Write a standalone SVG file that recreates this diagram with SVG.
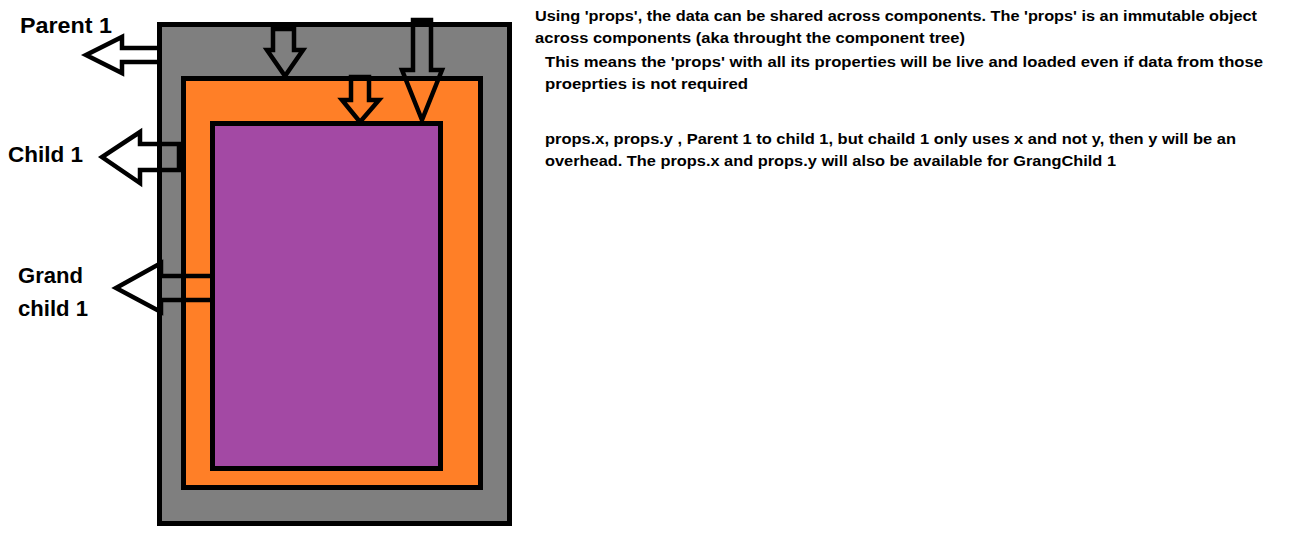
<svg xmlns="http://www.w3.org/2000/svg" width="1306" height="542" viewBox="0 0 1306 542">
<style>
.box{stroke:#000;stroke-width:5}
.arr{fill:none;stroke:#000;stroke-width:4.5;stroke-linejoin:miter}
.lbl{font-family:"Liberation Sans",Arial,sans-serif;font-weight:bold;font-size:22px;fill:#000}
.txt{font-family:"Liberation Sans",Arial,sans-serif;font-weight:bold;font-size:15.5px;fill:#000}
</style>
<rect width="1306" height="542" fill="#fff"/>
<g id="parent1">
<rect class="box" x="159.5" y="24.5" width="350" height="499" fill="#7f7f7f"/>
</g>
<g id="child1">
<rect class="box" x="183.5" y="78.5" width="297" height="409" fill="#ff7f27"/>
</g>
<g id="grandchild1">
<rect class="box" x="212.5" y="123.5" width="228" height="345" fill="#a349a4"/>
</g>
<g id="connectors">
<path class="arr" d="M159,48 H122 V37 L86,55 L122,73 V62 H159"/>
<path class="arr" d="M179,144 H140 V132 L102,157 L140,183 V170 H179 Z"/>
<path class="arr" d="M210,276 H161 V263 L116,288 L161,312 V300 H210"/>
<path class="arr" d="M273,29 H294 V50 H303 L285,76 L267,50 H273 Z"/>
<path class="arr" d="M413,20 H431 V70 H442 L422,120 L402,70 H413 Z"/>
<path class="arr" d="M351,77 H369 V100 H379 L360,122 L342,100 H351 Z"/>
</g>
<g id="labels">
<text class="lbl" x="20" y="33" textLength="92" lengthAdjust="spacingAndGlyphs">Parent 1</text>
<text class="lbl" x="8" y="162" textLength="75" lengthAdjust="spacingAndGlyphs">Child 1</text>
<text class="lbl" x="18" y="283" textLength="65" lengthAdjust="spacingAndGlyphs">Grand</text>
<text class="lbl" x="18" y="316" textLength="70" lengthAdjust="spacingAndGlyphs">child 1</text>
</g>
<g id="notes">
<text class="txt" x="535" y="21" textLength="722" lengthAdjust="spacingAndGlyphs">Using 'props', the data can be shared across components. The 'props' is an immutable object</text>
<text class="txt" x="535" y="43" textLength="430" lengthAdjust="spacingAndGlyphs">across components (aka throught the component tree)</text>
<text class="txt" x="545" y="67" textLength="718" lengthAdjust="spacingAndGlyphs">This means the 'props' with all its properties will be live and loaded even if data from those</text>
<text class="txt" x="545" y="89" textLength="203" lengthAdjust="spacingAndGlyphs">proeprties is not required</text>
<text class="txt" x="545" y="144" textLength="691" lengthAdjust="spacingAndGlyphs">props.x, props.y , Parent 1 to child 1, but chaild 1 only uses x and not y, then y will be an</text>
<text class="txt" x="545" y="166" textLength="571" lengthAdjust="spacingAndGlyphs">overhead. The props.x and props.y will also be available for GrangChild 1</text>
</g>
</svg>
